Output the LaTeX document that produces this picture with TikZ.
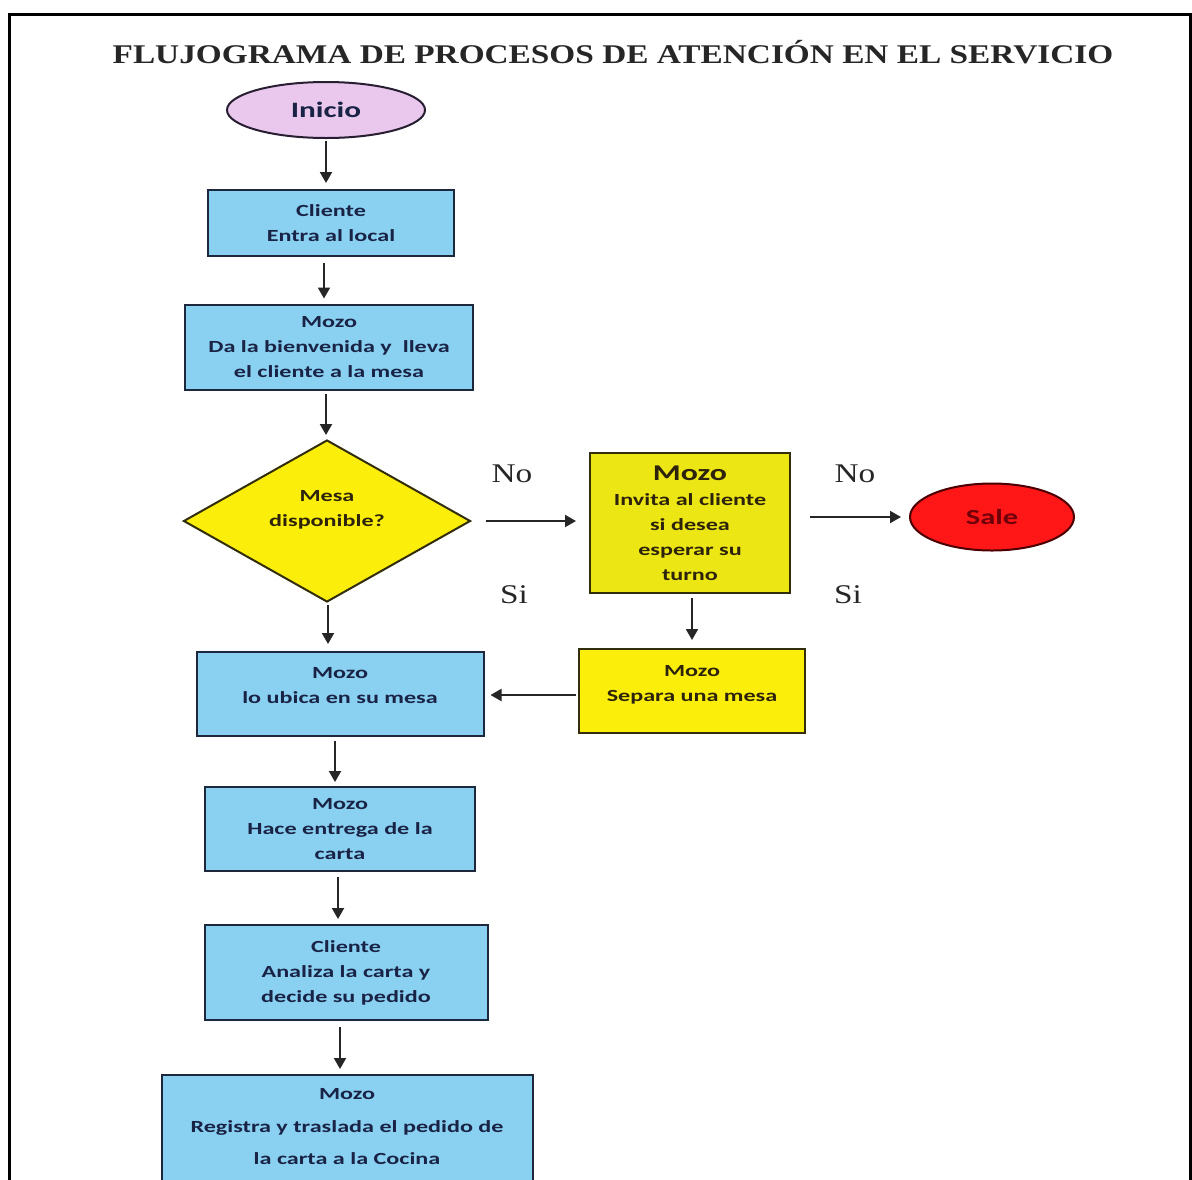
\documentclass[tikz,border=0pt]{standalone}
\usepackage{fontspec}
\setmainfont{Liberation Serif}
\newfontfamily\boxfont[FakeStretch=1.42]{Carlito}
\newfontfamily\titlefont[FakeStretch=1.234]{Liberation Serif}
\usetikzlibrary{shapes.geometric,arrows.meta}
\definecolor{boxblue}{RGB}{138,208,240}
\definecolor{boxline}{RGB}{30,40,60}
\definecolor{bluetext}{RGB}{25,35,70}
\definecolor{yel}{RGB}{250,238,10}
\definecolor{yelbox}{RGB}{236,230,20}
\definecolor{yelline}{RGB}{50,45,10}
\definecolor{yeltext}{RGB}{45,35,10}
\definecolor{violet}{RGB}{234,200,238}
\definecolor{violetline}{RGB}{40,30,50}
\definecolor{salered}{RGB}{255,22,22}
\definecolor{saletext}{RGB}{110,0,10}
\tikzset{
  bluebox/.style={draw=boxline, line width=2pt, fill=boxblue, text=bluetext, align=center, inner sep=0pt,
    font=\boxfont\bfseries\fontsize{17}{25}\selectfont},
  yelbx/.style={draw=yelline, line width=2pt, fill=yelbox, text=yeltext, align=center, inner sep=0pt,
    font=\boxfont\bfseries\fontsize{17}{25}\selectfont},
  arr/.style={line width=2pt, draw=black!85, -{Triangle[width=12pt,length=11pt]}},
  lbl/.style={font=\titlefont\fontsize{27}{28}\selectfont, text=black!85}
}
\begin{document}
\begin{tikzpicture}[x=1pt,y=-1pt]
\useasboundingbox (0,0) rectangle (1192,1179);
\clip (0,0) rectangle (1192,1179);
\fill[white] (0,0) rectangle (1192,1179);
\draw[line width=3pt] (9,1185) -- (9,14) -- (1190,14) -- (1190,1185);

\node[font=\titlefont\bfseries\fontsize{27}{30}\selectfont, text=black!85] (title) at (613,52) {FLUJOGRAMA DE PROCESOS DE ATENCIÓN EN EL SERVICIO};

\node[ellipse, draw=violetline, line width=2pt, fill=violet, minimum width=198pt, minimum height=56pt, inner sep=0pt,
  font=\boxfont\bfseries\fontsize{22}{24}\selectfont, text=bluetext] (inicio) at (326,110) {Inicio};

\node[bluebox, minimum width=246pt, minimum height=66pt] (cliente) at (331,223) {Cliente\\Entra al local};
\node[bluebox, minimum width=288pt, minimum height=85pt] (bienv) at (329,347) {Mozo\\Da la bienvenida y \ lleva\\el cliente a la mesa};

\node[diamond, draw=yelline, line width=2pt, fill=yel, minimum width=287pt, minimum height=162pt, inner sep=0pt,
  shape aspect=1.77, align=center, text=yeltext, font=\boxfont\bfseries\fontsize{17}{25}\selectfont] (dia) at (327,521) {Mesa\\disponible?\\\mbox{}};

\node[yelbx, minimum width=200pt, minimum height=140pt] (invita) at (690,523)
  {{\fontsize{22.5}{25}\selectfont Mozo}\\Invita al cliente\\si desea\\esperar su\\turno};

\node[ellipse, draw=black!70!red, line width=2pt, fill=salered, minimum width=164pt, minimum height=67pt, inner sep=0pt,
  font=\boxfont\bfseries\fontsize{21.5}{24}\selectfont, text=saletext] (sale) at (992,517) {Sale};

\node[yelbx, minimum width=226pt, minimum height=84pt, fill=yel] (separa) at (692,691) {Mozo\\Separa una mesa\\[-9pt]\mbox{}};

\node[bluebox, minimum width=287pt, minimum height=84pt] (ubica) at (340,694) {Mozo\\lo ubica en su mesa\\[-7pt]\mbox{}};
\node[bluebox, minimum width=270pt, minimum height=84pt] (entrega) at (340,829) {Mozo\\Hace entrega de la\\carta};
\node[bluebox, minimum width=283pt, minimum height=95pt] (analiza) at (346,972.5) {Cliente\\Analiza la carta y\\decide su pedido};
\node[draw=boxline, line width=2pt, fill=boxblue, minimum width=371pt, minimum height=130pt] (registra) at (347.5,1140) {};
\node[text=bluetext, align=center, inner sep=0pt, font=\boxfont\bfseries\fontsize{17}{32.5}\selectfont] (registratxt) at (347,1127)
  {Mozo\\Registra y traslada el pedido de\\la carta a la Cocina};

% labels
\node[lbl] (no1) at (512,474) {No};
\node[lbl] (no2) at (855,474) {No};
\node[lbl] (si1) at (514,595) {Si};
\node[lbl] (si2) at (848,595) {Si};

% connectors
\draw[arr, shorten <=2pt, shorten >=6pt] (inicio.south) -- (inicio.south |- cliente.north);
\draw[arr, shorten <=6pt, shorten >=5pt] ([xshift=-7pt]cliente.south) -- ([xshift=-7pt]cliente.south |- bienv.north);
\draw[arr, shorten <=3pt, shorten >=4pt] ([xshift=-3pt]bienv.south) -- ([xshift=-3pt]bienv.south |- dia.north);
\draw[arr, shorten <=14pt, shorten >=13pt] (dia.east) -- (dia.east -| invita.west);
\draw[arr, shorten >=8pt] ([xshift=19pt]invita.east |- sale.west) -- (sale.west);
\draw[arr, shorten <=4pt, shorten >=8pt] ([xshift=2pt]invita.south) -- ([xshift=2pt]invita.south |- separa.north);
\draw[arr, shorten <=2pt, shorten >=6pt] ([yshift=-4pt]separa.west) -- ([yshift=-4pt]separa.west -| ubica.east);
\draw[arr, shorten <=2pt, shorten >=7pt] ([xshift=1pt]dia.south) -- ([xshift=1pt]dia.south |- ubica.north);
\draw[arr, shorten <=4pt, shorten >=4pt] ([xshift=-5pt]ubica.south) -- ([xshift=-5pt]ubica.south |- entrega.north);
\draw[arr, shorten <=5pt, shorten >=5pt] ([xshift=-2pt]entrega.south) -- ([xshift=-2pt]entrega.south |- analiza.north);
\draw[arr, shorten <=6pt, shorten >=5pt] ([xshift=-6pt]analiza.south) -- ([xshift=-6pt]analiza.south |- registra.north);
\end{tikzpicture}
\end{document}
